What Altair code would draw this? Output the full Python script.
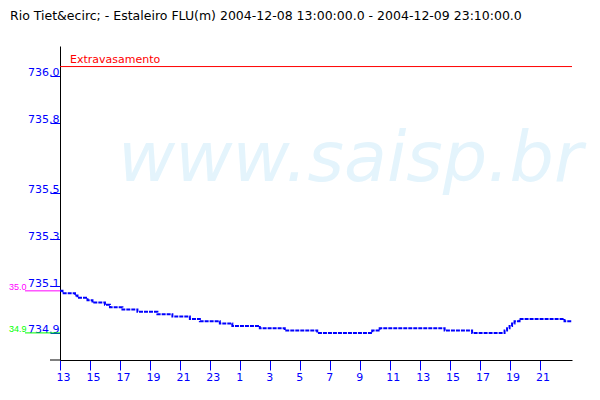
import altair as alt
import pandas as pd

FONT = "DejaVu Sans"
BLUE = "#0000ff"

title_text = "Rio Tiet&ecirc; - Estaleiro FLU(m) 2004-12-08 13:00:00.0 - 2004-12-09 23:10:00.0"
watermark_text = "www.saisp.br"

times = [
    "2004-12-08T13:00:00", "2004-12-08T13:10:00", "2004-12-08T14:00:00", "2004-12-08T14:10:00",
    "2004-12-08T14:50:00", "2004-12-08T15:10:00", "2004-12-08T16:00:00", "2004-12-08T16:20:00",
    "2004-12-08T17:10:00", "2004-12-08T18:10:00", "2004-12-08T19:30:00", "2004-12-08T20:30:00",
    "2004-12-08T21:40:00", "2004-12-08T22:20:00", "2004-12-08T23:40:00", "2004-12-09T00:30:00",
    "2004-12-09T02:20:00", "2004-12-09T04:00:00", "2004-12-09T06:10:00", "2004-12-09T09:50:00",
    "2004-12-09T10:20:00", "2004-12-09T14:40:00", "2004-12-09T16:30:00", "2004-12-09T18:40:00",
    "2004-12-09T18:50:00", "2004-12-09T19:00:00", "2004-12-09T19:10:00", "2004-12-09T19:20:00",
    "2004-12-09T19:40:00", "2004-12-09T22:40:00", "2004-12-09T23:10:00",
]
levels = [
    735.08, 735.07, 735.06, 735.05, 735.04, 735.03, 735.02, 735.01,
    735.00, 734.99, 734.98, 734.97, 734.96, 734.95, 734.94, 734.93,
    734.92, 734.91, 734.90, 734.91, 734.92, 734.91, 734.90, 734.91,
    734.92, 734.93, 734.94, 734.95, 734.96, 734.95, 734.95,
]

x_start = "2004-12-08T13:00:00"
x_end = "2004-12-09T23:10:00"
x_ticks = [
    "2004-12-08T13:00:00", "2004-12-08T15:00:00", "2004-12-08T17:00:00", "2004-12-08T19:00:00",
    "2004-12-08T21:00:00", "2004-12-08T23:00:00", "2004-12-09T01:00:00", "2004-12-09T03:00:00",
    "2004-12-09T05:00:00", "2004-12-09T07:00:00", "2004-12-09T09:00:00", "2004-12-09T11:00:00",
    "2004-12-09T13:00:00", "2004-12-09T15:00:00", "2004-12-09T17:00:00", "2004-12-09T19:00:00",
    "2004-12-09T21:00:00",
]
y_ticks = [734.9, 735.1, 735.3, 735.5, 735.8, 736.0]

ref_labels = ["Extravasamento"]
ref_levels = [736.04]

marker_labels = ["35.0", "34.9"]
marker_levels = [max(levels), min(levels)]
marker_colors = ["#ff00ff", "#00ff00"]


def dt(s):
    t = pd.Timestamp(s)
    return alt.DateTime(year=t.year, month=t.month, date=t.day, hours=t.hour, minutes=t.minute)


df = pd.DataFrame({"time": times, "level": levels})
ref_df = pd.DataFrame({"label": ref_labels, "level": ref_levels})
mark_df = pd.DataFrame({"label": marker_labels, "level": marker_levels, "color": marker_colors})
title_df = pd.DataFrame({"t": [title_text]})
wm_df = pd.DataFrame({"t": [watermark_text]})

y_enc = alt.Y(
    "level:Q",
    scale=alt.Scale(domain=[734.784, 736.128], nice=False, zero=False),
    axis=alt.Axis(
        values=y_ticks, format=".1f", title=None, grid=False,
        labelAlign="right", labelBaseline="alphabetic", labelPadding=-9,
        tickSize=10, tickColor=BLUE, labelColor=BLUE, domainColor="#000000",
        labelOverlap=False, labelFlush=False, labelFont=FONT, labelFontSize=11,
    ),
)

x_enc = alt.X(
    "time:T",
    scale=alt.Scale(domain=[dt(x_start), dt(x_end)]),
    axis=alt.Axis(
        values=[dt(s) for s in x_ticks], format="%-H", title=None, grid=False,
        labelAlign="left", labelOffset=-4, labelBaseline="top", labelPadding=1,
        tickSize=10, tickColor=BLUE, labelColor=BLUE, domainColor="#000000",
        labelOverlap=False, labelFlush=False, labelFont=FONT, labelFontSize=11,
    ),
)

watermark = alt.Chart(wm_df).mark_text(
    font=FONT, fontStyle="italic", fontSize=70, color="#e4f4fc",
    align="left", baseline="alphabetic",
).encode(x=alt.value(58), y=alt.value(135), text="t:N")

ref_rule = alt.Chart(ref_df).mark_rule(color="#ff0000", strokeWidth=1).encode(y=y_enc)
ref_text = alt.Chart(ref_df).mark_text(
    font=FONT, fontSize=11, color="#ff0000", align="left", baseline="alphabetic", dy=-4,
).encode(x=alt.value(10), y=y_enc, text="label:N")

line = alt.Chart(df).mark_line(
    interpolate="step-after", color=BLUE, strokeWidth=2, strokeDash=[4, 1],
).encode(x=x_enc, y=y_enc)

mark_rule = alt.Chart(mark_df).mark_rule(strokeWidth=1).encode(
    x=alt.value(-35), x2=alt.value(0), y=y_enc,
    color=alt.Color("color:N", scale=None),
)
mark_text = alt.Chart(mark_df).mark_text(
    font="Liberation Sans", fontSize=9, align="left", baseline="alphabetic", dy=-1,
).encode(
    x=alt.value(-51), y=y_enc, text="label:N",
    color=alt.Color("color:N", scale=None),
)

axis_ext = alt.Chart(title_df).mark_rule(color="#000000").encode(
    x=alt.value(-10), x2=alt.value(0), y=alt.value(314),
)

title = alt.Chart(title_df).mark_text(
    font=FONT, fontSize=12.5, color="#000000", align="left", baseline="alphabetic",
).encode(x=alt.value(-50), y=alt.value(-26), text="t:N")

chart = alt.layer(
    watermark, ref_rule, ref_text, line, mark_rule, mark_text, axis_ext, title
).properties(
    width=512, height=314,
    padding={"left": 52, "top": 38, "right": 20, "bottom": 32},
    autosize=alt.AutoSizeParams(type="none"),
    background="#ffffff",
).configure_view(stroke=None)

chart.save("out.html", embed_options={"renderer": "svg", "actions": False})
